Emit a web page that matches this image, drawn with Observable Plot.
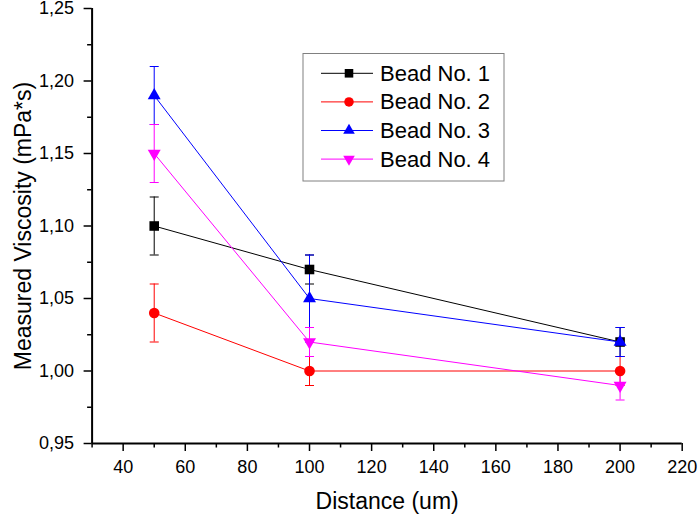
<!DOCTYPE html>
<html>
<head>
<meta charset="utf-8">
<script src="https://cdn.jsdelivr.net/npm/d3@7"></script>
<script src="https://cdn.jsdelivr.net/npm/@observablehq/plot@0.6"></script>
<style>
  html, body { margin: 0; padding: 0; background: #fff; }
  #chart { width: 698px; height: 520px; }
</style>
</head>
<body>
<div id="chart"></div>
<script>
// ---- data ----
const distances = [50, 100, 200];
const seriesNames = ["Bead No. 1", "Bead No. 2", "Bead No. 3", "Bead No. 4"];
const seriesColors = ["#000000", "#ff0000", "#0000ff", "#ff00ff"];
const bead1 = [1.10, 1.07, 1.02];
const bead2 = [1.04, 1.00, 1.00];
const bead3 = [1.19, 1.05, 1.02];
const bead4 = [1.15, 1.02, 0.99];
const err1 = [0.02, 0.01, 0.01];
const err2 = [0.02, 0.01, 0.01];
const err3 = [0.02, 0.03, 0.01];
const err4 = [0.02, 0.01, 0.01];
const xMajorTicks = [40, 60, 80, 100, 120, 140, 160, 180, 200, 220];
const xMinorTicks = [30, 50, 70, 90, 110, 130, 150, 170, 190, 210];
const yMajorTicks = [0.95, 1.00, 1.05, 1.10, 1.15, 1.20, 1.25];
const yMinorTicks = [0.975, 1.025, 1.075, 1.125, 1.175, 1.225];

const values = [bead1, bead2, bead3, bead4];
const errors = [err1, err2, err3, err4];

// custom symbols
const capSymbol = {draw(ctx, size) { const h = Math.sqrt(size / Math.PI); ctx.moveTo(-h, 0); ctx.lineTo(h, 0); }};
const triDown = {draw(ctx, size) {
  const k = Math.sqrt(size / (3 * Math.sqrt(3)));
  ctx.moveTo(0, 2 * k); ctx.lineTo(Math.sqrt(3) * k, -k); ctx.lineTo(-Math.sqrt(3) * k, -k); ctx.closePath();
}};
const symbols = ["square", "circle", "triangle", triDown];
const radii = [5.4, 5.3, 4.8, 4.8];

const table = [];
seriesNames.forEach((name, s) => {
  distances.forEach((d, i) => {
    table.push({series: name, s, x: d, y: values[s][i], lo: values[s][i] - errors[s][i], hi: values[s][i] + errors[s][i]});
  });
});

const fmt = d => d.toFixed(2).replace(".", ",");
const font = "'Liberation Sans', Arial, sans-serif";

const marks = [];
seriesNames.forEach((name, s) => {
  const rows = table.filter(r => r.s === s);
  const c = seriesColors[s];
  marks.push(Plot.ruleX(rows, {x: "x", y1: "lo", y2: "hi", stroke: c, strokeWidth: 1}));
  marks.push(Plot.dot(rows, {x: "x", y: "lo", symbol: capSymbol, r: 4.5, stroke: c, strokeWidth: 1, fill: "none"}));
  marks.push(Plot.dot(rows, {x: "x", y: "hi", symbol: capSymbol, r: 4.5, stroke: c, strokeWidth: 1, fill: "none"}));
});
seriesNames.forEach((name, s) => {
  const rows = table.filter(r => r.s === s);
  const c = seriesColors[s];
  marks.push(Plot.line(rows, {x: "x", y: "y", stroke: c, strokeWidth: 1}));
  marks.push(Plot.dot(rows, {x: "x", y: "y", symbol: symbols[s], r: radii[s], fill: c, stroke: "none"}));
});

const chart = Plot.plot({
  width: 698,
  height: 520,
  marginLeft: 91.6,
  marginRight: 16.3,
  marginTop: 8,
  marginBottom: 77,
  style: {fontFamily: font, fontSize: "18px", background: "#fff", color: "#000"},
  x: {domain: [30, 220]},
  y: {domain: [0.95, 1.25]},
  marks: [
    Plot.axisX({ticks: xMajorTicks, tickSize: 8, tickPadding: 9, fontSize: 18, label: null, strokeWidth: 1.5}),
    Plot.axisX({ticks: xMinorTicks, tickSize: 4.5, text: null, label: null, strokeWidth: 1.5}),
    Plot.axisY({ticks: yMajorTicks, tickSize: 8, tickPadding: 10, fontSize: 18, tickFormat: fmt, label: null, strokeWidth: 1.5}),
    Plot.axisY({ticks: yMinorTicks, tickSize: 4.5, text: null, label: null, strokeWidth: 1.5}),
    Plot.ruleY([0.95], {stroke: "#000", strokeWidth: 2}),
    Plot.ruleX([30], {stroke: "#000", strokeWidth: 2}),
    Plot.text(["Distance (um)"], {frameAnchor: "bottom", dy: 65, lineAnchor: "bottom", textAnchor: "middle", fontSize: 23, fill: "#000"}),
    Plot.text(["Measured Viscosity (mPa*s)"], {frameAnchor: "left", dx: -61.6, rotate: -90, lineAnchor: "bottom", textAnchor: "middle", fontSize: 23, fill: "#000"}),
    ...marks
  ]
});

document.getElementById("chart").appendChild(chart);

// ---- legend ----
const svg = d3.select(chart);
const lg = svg.append("g").attr("class", "legend");
const boxX = 303, boxY = 53.5, boxW = 201, boxH = 127.5;
lg.append("rect").attr("x", boxX).attr("y", boxY).attr("width", boxW).attr("height", boxH)
  .attr("fill", "#fff").attr("stroke", "#808080").attr("stroke-width", 1);
const d3syms = [d3.symbolSquare, d3.symbolCircle, d3.symbolTriangle, triDown];
seriesNames.forEach((name, s) => {
  const cy = 73.3 + s * 28.6;
  const c = seriesColors[s];
  lg.append("line").attr("x1", 321).attr("x2", 373).attr("y1", cy).attr("y2", cy)
    .attr("stroke", c).attr("stroke-width", 1);
  lg.append("path").attr("transform", `translate(349,${cy})`)
    .attr("d", d3.symbol(d3syms[s], Math.PI * radii[s] * radii[s] * 0.8)())
    .attr("fill", c);
  lg.append("text").attr("x", 380).attr("y", cy + 7.5).text(name)
    .style("font-size", "22px").style("font-family", font).style("text-anchor", "start")
    .attr("fill", "#000");
});
</script>
</body>
</html>
